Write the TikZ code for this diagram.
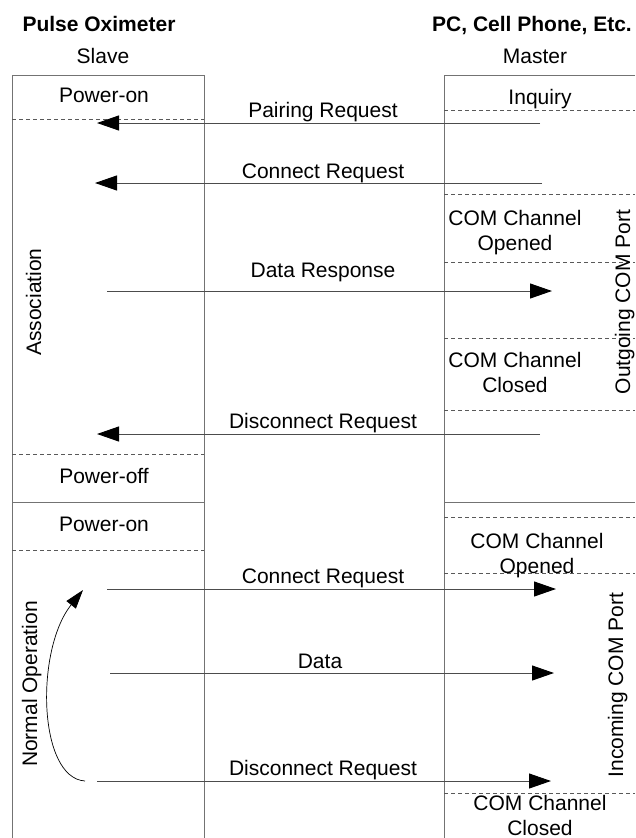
\documentclass[tikz,border=0pt]{standalone}
\usepackage{fontspec}
\setmainfont{Liberation Sans}
\usetikzlibrary{arrows.meta}
\tikzset{
    frame/.style={
        black!55,
        line width=1pt
    },
    sep/.style={
        black!65,
        line width=0.8pt,
        dash pattern=on 4pt off 3pt
    },
    msg/.style={
        black!70,
        line width=1pt,
        -{Triangle[length=22pt,width=15pt,black]}
    },
    txt/.style={
        inner sep=0pt,
        anchor=base,
        align=center,
        font=\fontsize{21}{25}\selectfont
    },
    side/.style={
        txt,
        rotate=90
    }
}

\begin{document}
\begin{tikzpicture}[x=1pt,y=-1pt]
          \useasboundingbox (0,0) rectangle (635,838);
          % frame
          \draw [frame] (12,838) -- (12,75) -- (204,75) -- (204,838);
          \draw [frame] (635,75) -- (444,75) -- (444,838);
          \draw [frame] (12,502) -- (204,502);
          \draw [frame] (444,502) -- (635,502);
          \foreach \y in {119,454,550}
              \draw [sep] (12,\y) -- (204,\y);
          \foreach \y in {110,194,262,338,410,517,573,793}
              \draw [sep] (444,\y) -- (635,\y);
          % headings
          \node (oximeter) [txt, font=\fontsize{21}{25}\selectfont\bfseries] at (99,31) {Pulse Oximeter};
          \node (pc) [txt, font=\fontsize{21}{25}\selectfont\bfseries] at (532,31) {PC, Cell Phone, Etc.};
          \node (slave) [txt] at (103,63) {Slave};
          \node (master) [txt] at (535,63) {Master};
          % states (base = last line)
          \node (poweron1) [txt] at (104,102) {Power-on};
          \node (inquiry) [txt] at (540,104) {Inquiry};
          \node (opened1) [txt] at (515,250) {COM Channel\\Opened};
          \node (closed1) [txt] at (515,392) {COM Channel\\Closed};
          \node (poweroff) [txt] at (104,483) {Power-off};
          \node (poweron2) [txt] at (104,531) {Power-on};
          \node (opened2) [txt] at (537,573) {COM Channel\\Opened};
          \node (closed2) [txt] at (540,835) {COM Channel\\Closed};
          \node (assoc) [side] at (41,302) {Association};
          \node (normop) [side] at (37,684) {Normal Operation};
          \node (outport) [side] at (630,302) {Outgoing COM Port};
          \node (inport) [side] at (623,685) {Incoming COM Port};
          % messages
          \coordinate (pair-m) at (540,123);
          \coordinate (pair-s) at (97,123);
          \coordinate (conn-m) at (542,183);
          \coordinate (conn-s) at (95,183);
          \coordinate (resp-s) at (107,291);
          \coordinate (resp-m) at (552,291);
          \coordinate (disc-m) at (540,434);
          \coordinate (disc-s) at (97,434);
          \coordinate (conn2-s) at (107,589);
          \coordinate (conn2-m) at (556,589);
          \coordinate (data-s) at (110,673);
          \coordinate (data-m) at (554,673);
          \coordinate (disc2-s) at (97,781);
          \coordinate (disc2-m) at (551,781);
          \draw [msg] (pair-m) -- (pair-s);
          \draw [msg] (conn-m) -- (conn-s);
          \draw [msg] (resp-s) -- (resp-m);
          \draw [msg] (disc-m) -- (disc-s);
          \draw [msg] (conn2-s) -- (conn2-m);
          \draw [msg] (data-s) -- (data-m);
          \draw [msg] (disc2-s) -- (disc2-m);
          \node (pairlbl) [txt] at (323,117) {Pairing Request};
          \node (connlbl) [txt] at (323,178) {Connect Request};
          \node (resplbl) [txt] at (323,277) {Data Response};
          \node (disclbl) [txt] at (323,428) {Disconnect Request};
          \node (conn2lbl) [txt] at (323,583) {Connect Request};
          \node (datalbl) [txt] at (320,668) {Data};
          \node (disc2lbl) [txt] at (323,775) {Disconnect Request};
          % loop back
          \coordinate (loop-s) at (85,781);
          \coordinate (loop-e) at (83,590);
          \draw [black, line width=0.7pt, -{Triangle[length=19pt,width=12pt]}]
              (loop-s) .. controls (38,778) and (35,650) .. (loop-e);
        \end{tikzpicture}
\end{document}
